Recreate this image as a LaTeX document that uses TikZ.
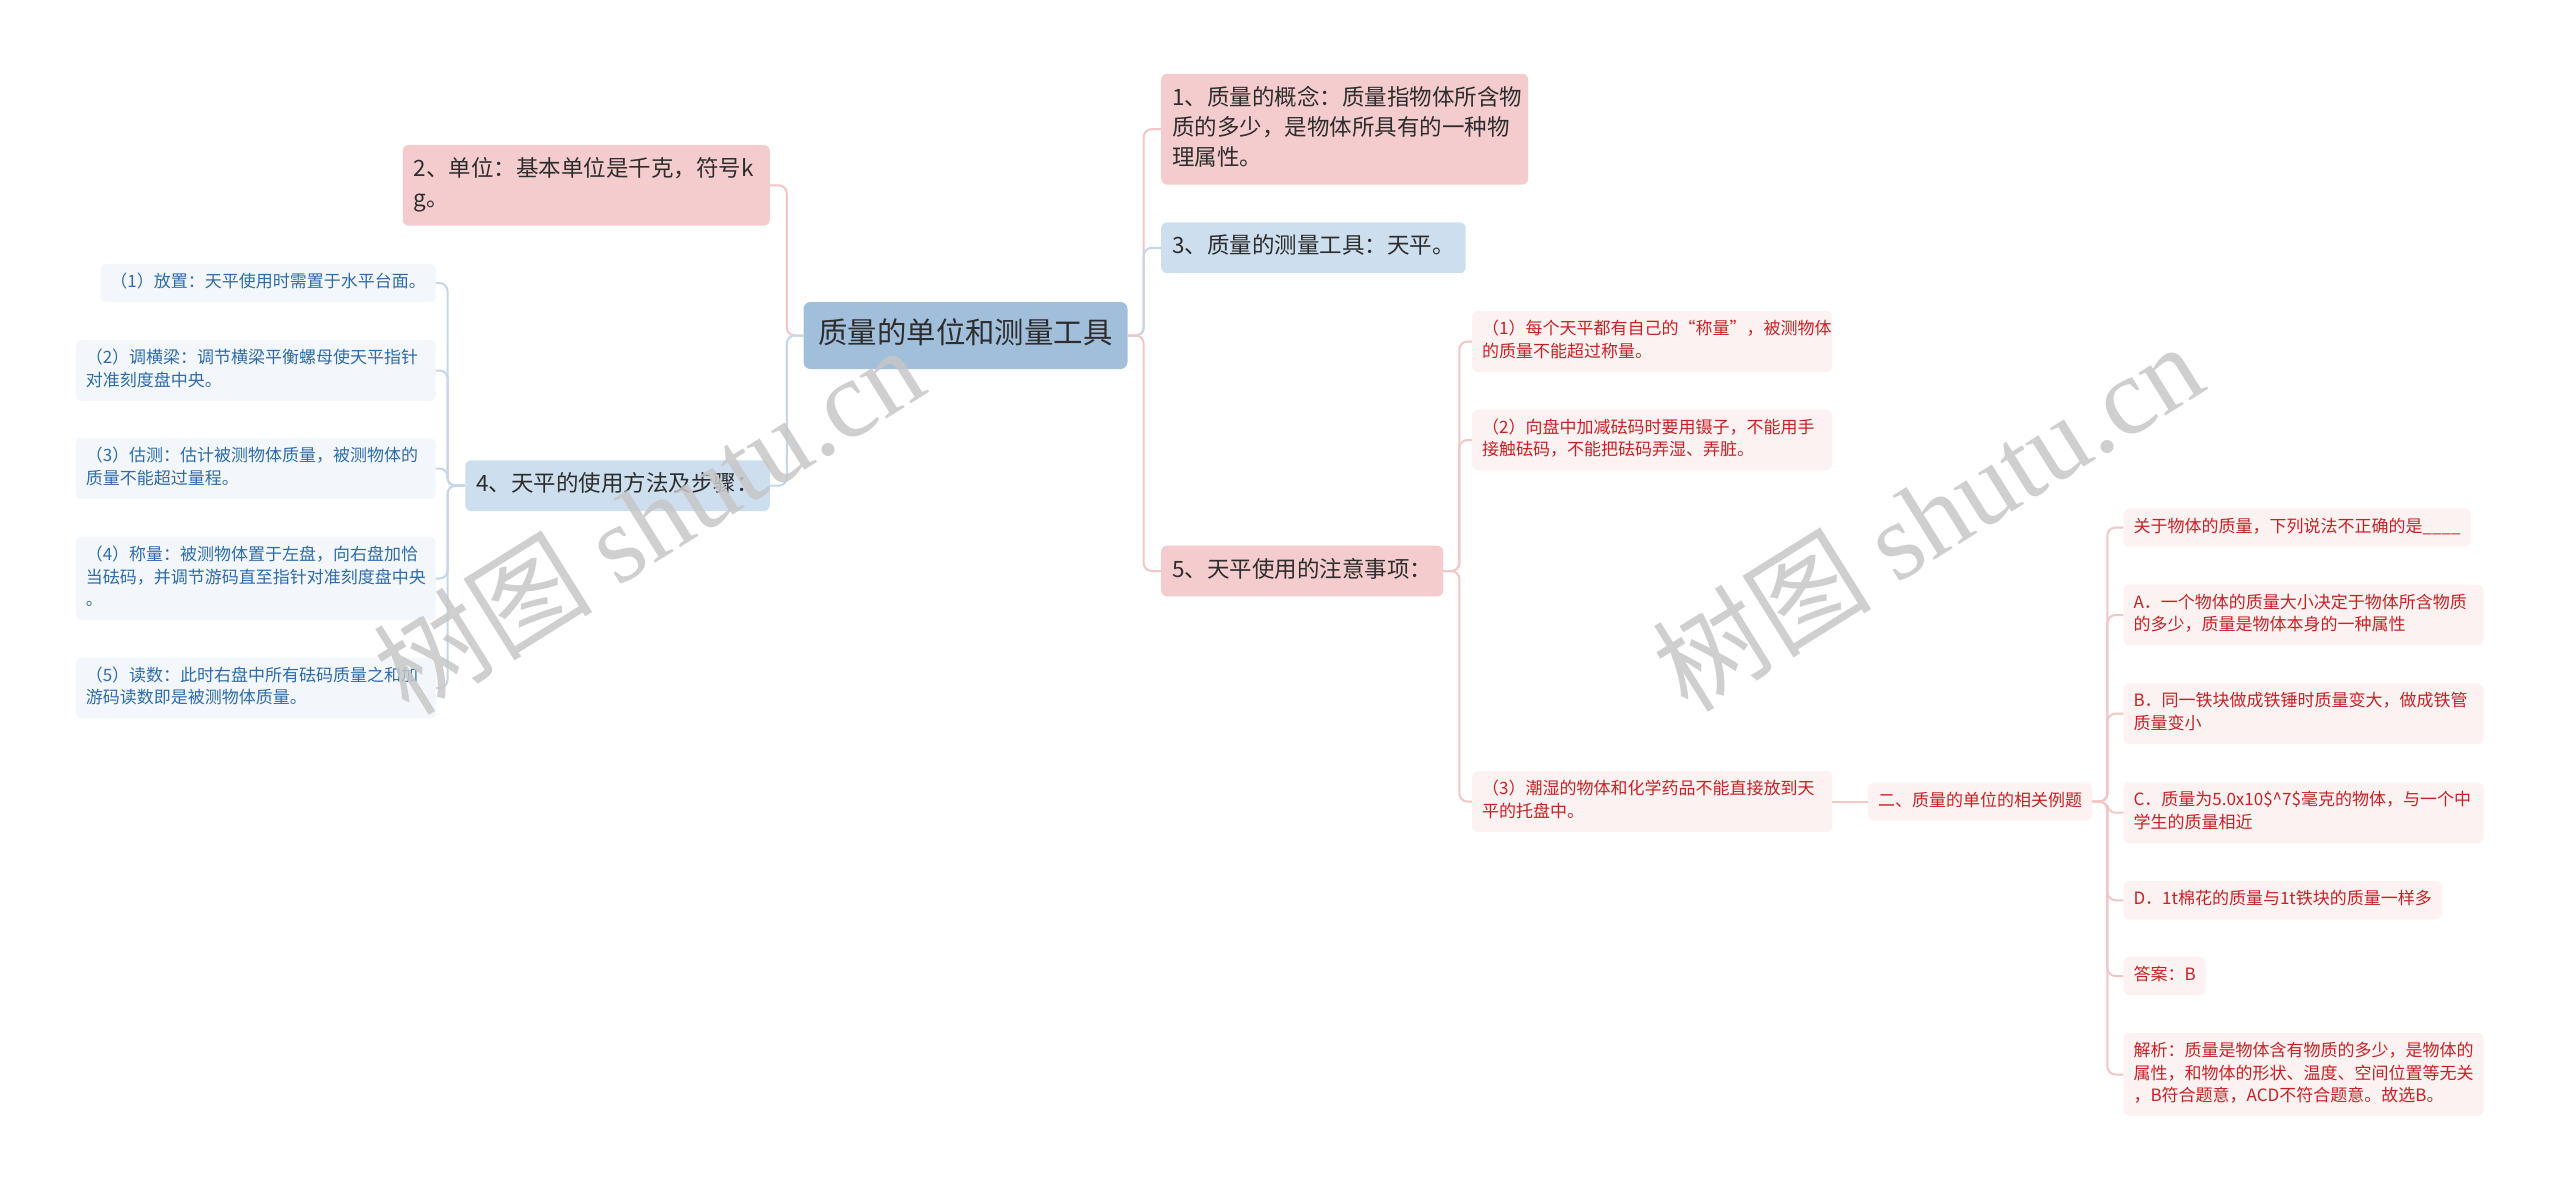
\documentclass[tikz,border=0pt]{standalone}
\usepackage{fontspec}
\setmainfont{Noto Sans CJK SC}
\newfontfamily\wmserif{Liberation Serif}
\definecolor{rootfill}{RGB}{161,191,219}
\definecolor{pinkfill}{RGB}{245,204,205}
\definecolor{bluefill}{RGB}{205,223,238}
\definecolor{bleaffill}{RGB}{243,247,252}
\definecolor{rleaffill}{RGB}{253,242,242}
\definecolor{darktext}{RGB}{45,45,45}
\definecolor{bleaftext}{RGB}{46,108,170}
\definecolor{rleaftext}{RGB}{198,34,38}
\definecolor{pinkline}{RGB}{240,198,199}
\definecolor{blueline}{RGB}{196,214,232}
\tikzset{
  mmbox/.style={rounded corners=6pt,align=left,
    execute at begin node=\strut,execute at end node=\strut},
  rootbox/.style={mmbox,fill=rootfill,text=darktext,rounded corners=7pt,
    font=\fontsize{29.4}{38}\selectfont,inner xsep=15pt,inner ysep=14.5pt},
  pinkbox/.style={mmbox,fill=pinkfill,text=darktext,
    font=\fontsize{22.5}{30}\selectfont,inner xsep=11pt,inner ysep=10.4pt},
  bluebox/.style={pinkbox,fill=bluefill},
  bleaf/.style={mmbox,fill=bleaffill,text=bleaftext,
    font=\fontsize{17}{22.5}\selectfont,inner xsep=10pt,inner ysep=7.9pt},
  rleaf/.style={bleaf,fill=rleaffill,text=rleaftext},
  pinkedge/.style={draw=pinkline,line width=2pt,rounded corners=8pt},
  blueedge/.style={pinkedge,draw=blueline},
  wmark/.style={text=black!22,opacity=.85,font=\fontsize{110}{110}\selectfont,rotate=32}
}
\begin{document}
\begin{tikzpicture}[x=1pt,y=-1pt]
  \fill[white](0,0)rectangle(2560,1191);
  % centre and first level
  \node[rootbox](root)at(965.5,335.5){质量的单位和测量工具};
  \node[pinkbox,anchor=east,text width=345pt](n2)at(770,185.3){2、单位：基本单位是千克，符号k\\g。};
  \node[bluebox,anchor=east](n4)at(770,485.7){4、天平的使用方法及步骤：};
  \node[pinkbox,anchor=west,text width=345pt](n1)at(1161,129.2){1、质量的概念：质量指物体所含物\\质的多少，是物体所具有的一种物\\理属性。};
  \node[bluebox,anchor=west](n3)at(1161,247.8){3、质量的测量工具：天平。};
  \node[pinkbox,anchor=west](n5)at(1161,571){5、天平使用的注意事项：};
  % steps of the balance
  \node[bleaf,anchor=east](l1)at(436,283){（1）放置：天平使用时需置于水平台面。};
  \node[bleaf,anchor=east,text width=340pt](l2)at(436,370.5){（2）调横梁：调节横梁平衡螺母使天平指针\\对准刻度盘中央。};
  \node[bleaf,anchor=east,text width=340pt](l3)at(436,468.5){（3）估测：估计被测物体质量，被测物体的\\质量不能超过量程。};
  \node[bleaf,anchor=east,text width=340pt](l4)at(436,578.5){（4）称量：被测物体置于左盘，向右盘加恰\\当砝码，并调节游码直至指针对准刻度盘中央\\。};
  \node[bleaf,anchor=east,text width=340pt](l5)at(436,688){（5）读数：此时右盘中所有砝码质量之和加\\游码读数即是被测物体质量。};
  % things to watch
  \node[rleaf,anchor=west,text width=340pt](r1)at(1472,341.5){（1）每个天平都有自己的“称量”，被测物体\\的质量不能超过称量。};
  \node[rleaf,anchor=west,text width=340pt](r2)at(1472,440){（2）向盘中加减砝码时要用镊子，不能用手\\接触砝码，不能把砝码弄湿、弄脏。};
  \node[rleaf,anchor=west,text width=340pt](r3)at(1472,801.5){（3）潮湿的物体和化学药品不能直接放到天\\平的托盘中。};
  \node[rleaf,anchor=west](ex)at(1868,801.5){二、质量的单位的相关例题};
  % example question
  \node[rleaf,anchor=west](q)at(2123.3,527.5){关于物体的质量，下列说法不正确的是\_\_\_\_};
  \node[rleaf,anchor=west,text width=340pt](qa)at(2123.3,615){A．一个物体的质量大小决定于物体所含物质\\的多少，质量是物体本身的一种属性};
  \node[rleaf,anchor=west,text width=340pt](qb)at(2123.3,713.7){B．同一铁块做成铁锤时质量变大，做成铁管\\质量变小};
  \node[rleaf,anchor=west,text width=340pt](qc)at(2123.3,812.7){C．质量为5.0x10\$\textasciicircum7\$毫克的物体，与一个中\\学生的质量相近};
  \node[rleaf,anchor=west](qd)at(2123.3,900.3){D．1t棉花的质量与1t铁块的质量一样多};
  \node[rleaf,anchor=west](ans)at(2123.3,976){答案：B};
  \node[rleaf,anchor=west,text width=340pt](expl)at(2123.3,1074.5){解析：质量是物体含有物质的多少，是物体的\\属性，和物体的形状、温度、空间位置等无关\\，B符合题意，ACD不符合题意。故选B。};
  % connectors
  \draw[pinkedge](root.west)--++(-16.5,0)|-(n2.east);
  \draw[blueedge](root.west)--++(-16.5,0)|-(n4.east);
  \draw[pinkedge](root.east)--++(16,0)|-(n1.west);
  \draw[blueedge](root.east)--++(16,0)|-(n3.west);
  \draw[pinkedge](root.east)--++(16,0)|-(n5.west);
  \foreach \k in {l1,l2,l3,l4,l5}
    \draw[blueedge](n4.west)--++(-17.6,0)|-(\k.east);
  \foreach \k in {r1,r2,r3}
    \draw[pinkedge](n5.east)--++(16,0)|-(\k.west);
  \draw[pinkedge](r3.east)--(ex.west);
  \foreach \k in {q,qa,qb,qc,qd,ans,expl}
    \draw[pinkedge](ex.east)--++(15,0)|-(\k.west);
  % watermark
  \node[wmark](wm1)at(648,519){树图 {\wmserif shutu.cn}};
  \node[wmark](wm2)at(1927,516){树图 {\wmserif shutu.cn}};
\end{tikzpicture}
\end{document}
